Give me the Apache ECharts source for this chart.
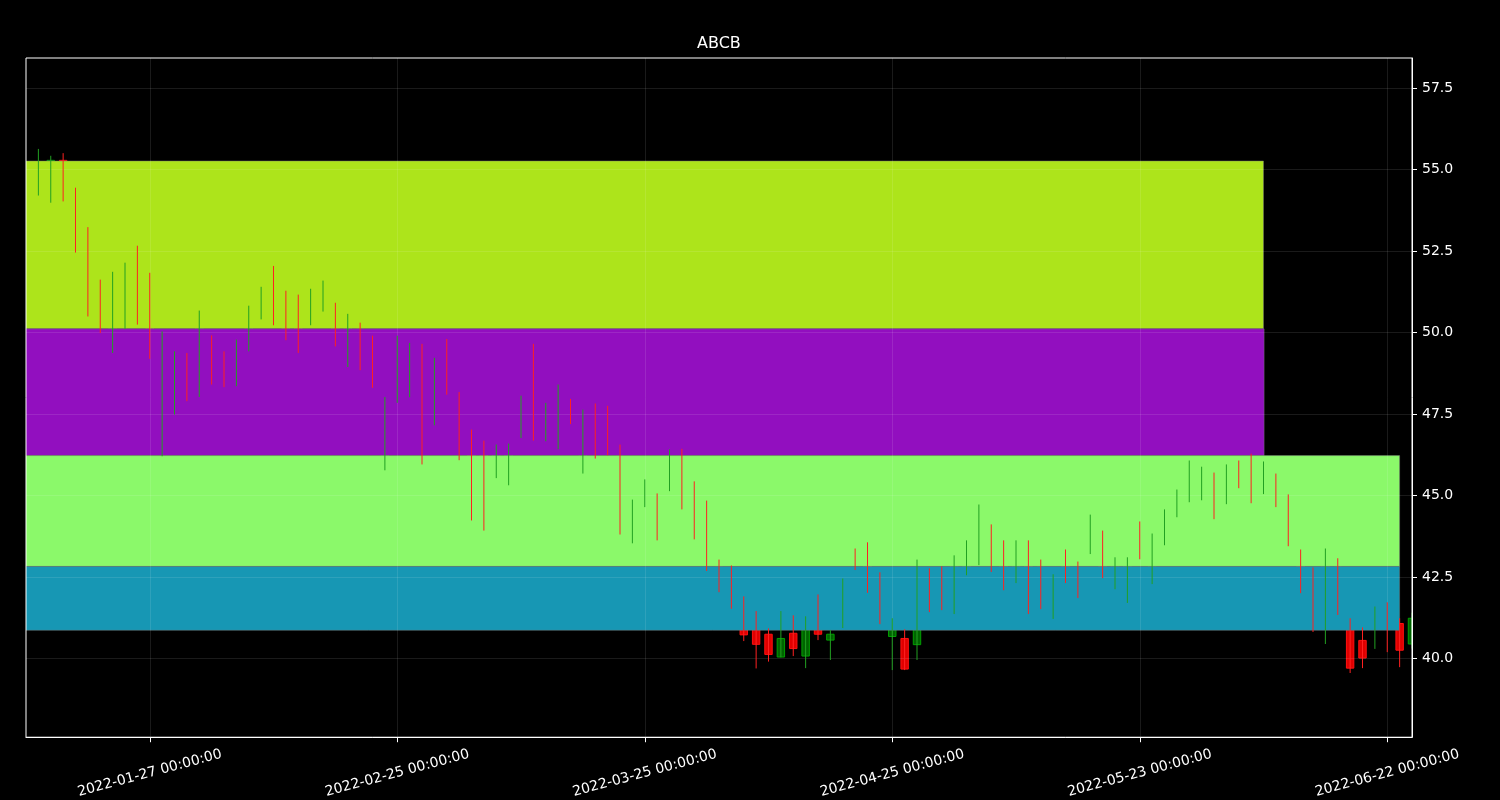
<!DOCTYPE html>
<html>
<head>
<meta charset="utf-8">
<script src="https://cdn.jsdelivr.net/npm/echarts@6/dist/echarts.min.js"></script>
<style>html,body{margin:0;padding:0;background:#000;}#chart{width:1500px;height:800px;}</style>
</head>
<body>
<div id="chart"></div>
<script>
const chartTitle = 'ABCB';
const dates = [
'2022-01-13','2022-01-14','2022-01-18','2022-01-19','2022-01-20','2022-01-21','2022-01-24','2022-01-25','2022-01-26','2022-01-27',
'2022-01-28','2022-01-31','2022-02-01','2022-02-02','2022-02-03','2022-02-04','2022-02-07','2022-02-08','2022-02-09','2022-02-10',
'2022-02-11','2022-02-14','2022-02-15','2022-02-16','2022-02-17','2022-02-18','2022-02-22','2022-02-23','2022-02-24','2022-02-25',
'2022-02-28','2022-03-01','2022-03-02','2022-03-03','2022-03-04','2022-03-07','2022-03-08','2022-03-09','2022-03-10','2022-03-11',
'2022-03-14','2022-03-15','2022-03-16','2022-03-17','2022-03-18','2022-03-21','2022-03-22','2022-03-23','2022-03-24','2022-03-25',
'2022-03-28','2022-03-29','2022-03-30','2022-03-31','2022-04-01','2022-04-04','2022-04-05','2022-04-06','2022-04-07','2022-04-08',
'2022-04-11','2022-04-12','2022-04-13','2022-04-14','2022-04-18','2022-04-19','2022-04-20','2022-04-21','2022-04-22','2022-04-25',
'2022-04-26','2022-04-27','2022-04-28','2022-04-29','2022-05-02','2022-05-03','2022-05-04','2022-05-05','2022-05-06','2022-05-09',
'2022-05-10','2022-05-11','2022-05-12','2022-05-13','2022-05-16','2022-05-17','2022-05-18','2022-05-19','2022-05-20','2022-05-23',
'2022-05-24','2022-05-25','2022-05-26','2022-05-27','2022-05-31','2022-06-01','2022-06-02','2022-06-03','2022-06-06','2022-06-07',
'2022-06-08','2022-06-09','2022-06-10','2022-06-13','2022-06-14','2022-06-15','2022-06-16','2022-06-17','2022-06-21','2022-06-22',
'2022-06-23','2022-06-24'];
const opens = [
54.45,54.60,55.28,54.20,53.00,51.40,50.10,50.60,52.30,51.50,
46.60,47.80,49.10,48.40,49.70,49.20,48.60,49.70,50.60,51.80,
51.00,50.90,50.40,50.80,50.70,49.20,50.10,49.60,46.20,48.10,
48.30,49.30,47.50,49.50,47.90,46.70,46.30,45.80,45.60,47.00,
49.30,46.90,46.70,47.80,46.00,47.50,47.50,46.20,43.80,44.80,
44.80,45.40,46.10,45.10,44.50,42.80,42.60,40.95,40.95,40.74,
40.04,40.77,40.07,40.90,40.56,41.20,43.20,43.30,42.40,40.67,
40.61,40.42,42.50,42.60,41.70,42.80,43.20,43.90,43.40,42.50,
43.30,42.80,41.50,43.10,42.70,43.40,43.70,42.30,42.00,44.00,
42.50,43.70,44.50,45.00,45.10,45.40,45.00,45.90,46.00,45.30,
45.40,44.70,43.10,42.50,41.00,42.80,40.95,40.55,40.90,41.40,
41.07,40.44];
const highs = [
55.63,55.42,55.50,54.44,53.23,51.62,51.86,52.14,52.66,51.83,
50.03,49.42,49.37,50.67,49.91,49.42,49.78,50.82,51.40,52.04,
51.28,51.16,51.34,51.59,50.91,50.57,50.30,49.90,48.02,49.90,
49.68,49.65,49.22,49.80,48.17,47.02,46.68,46.56,46.59,48.06,
49.65,47.84,48.40,47.96,47.63,47.82,47.75,46.56,44.87,45.49,
45.06,46.41,46.43,45.43,44.84,43.03,42.85,41.90,41.45,40.92,
41.45,41.32,41.29,41.96,40.87,42.45,43.37,43.56,42.64,41.23,
40.89,43.03,42.76,42.82,43.16,43.62,44.72,44.11,43.62,43.62,
43.62,43.03,42.58,43.34,42.97,44.41,43.92,43.10,43.10,44.20,
43.83,44.57,45.18,46.07,45.88,45.70,45.95,46.07,46.28,46.04,
45.67,45.03,43.34,42.79,43.37,43.07,41.23,40.95,41.59,41.72,
41.23,41.40];
const lows = [
54.20,53.98,54.02,52.45,50.49,49.98,49.37,50.11,50.24,49.19,
46.20,47.48,47.89,48.02,48.40,48.32,48.35,49.42,50.40,50.22,
49.76,49.37,50.22,50.64,49.57,48.94,48.84,48.30,45.77,47.84,
48.01,45.95,47.15,48.09,46.08,44.23,43.92,45.53,45.31,46.76,
46.68,46.66,46.41,47.19,45.67,46.13,46.23,43.80,43.53,44.64,
43.62,45.13,44.57,43.65,42.68,42.03,41.52,40.53,39.69,39.90,
40.03,40.07,39.70,40.56,39.95,40.93,42.71,42.01,41.05,39.64,
39.64,39.95,41.42,41.48,41.36,42.55,42.86,42.65,42.09,42.31,
41.36,41.51,41.21,42.31,41.85,43.20,42.46,42.12,41.70,43.04,
42.28,43.47,44.33,44.79,44.85,44.27,44.73,45.22,44.76,45.04,
44.64,43.44,42.00,40.81,40.44,41.33,39.55,39.70,40.29,40.19,
39.73,40.30];
const closes = [
55.10,55.28,54.60,52.80,50.90,50.30,51.50,51.90,50.60,49.50,
49.60,49.10,48.20,50.20,48.70,48.60,49.50,50.60,51.20,50.50,
50.00,49.70,51.10,51.40,49.80,50.30,49.10,48.60,47.70,49.60,
49.40,46.40,48.90,48.40,46.40,44.60,44.30,46.30,46.30,47.80,
47.00,47.60,48.10,47.40,47.30,46.40,46.50,44.20,44.60,45.30,
43.90,46.10,44.90,44.00,43.00,42.30,41.80,40.72,40.43,40.12,
40.61,40.30,40.90,40.74,40.74,42.10,42.90,42.30,41.30,40.88,
39.67,41.00,41.70,41.80,42.90,43.40,44.40,42.90,42.40,43.40,
41.70,41.80,42.30,42.50,42.10,44.20,42.70,42.90,42.90,43.30,
43.60,44.40,45.00,45.80,45.70,44.50,45.70,45.40,45.00,45.80,
44.90,43.70,42.30,41.10,43.00,41.60,39.70,40.01,41.30,40.95,
40.25,41.23];
const bandLow  = [50.11, 46.22, 42.82, 40.86];
const bandHigh = [55.26, 50.11, 46.22, 42.82];
const bandEnd  = [99.0, 99.05, 110.0, 110.0];
const xTickIndex = [9, 29, 49, 69, 89, 109];
const yTickValues = [40.0, 42.5, 45.0, 47.5, 50.0, 52.5, 55.0, 57.5];

const bandColors = ['#ade41b', '#920fbf', '#8bf96a', '#1797b4'];
const upFill = '#006400', upEdge = '#00a000', upWick = '#22a022';
const downFill = '#e00000', downEdge = '#ff1010', downWick = '#ff2020';
const FONT = 'DejaVu Sans';

const candleData = dates.map((d, i) => [i, opens[i], closes[i], highs[i], lows[i]]);
const bandData = bandLow.map((l, k) => [-1.5, bandEnd[k], l, bandHigh[k], k]);

const chart = echarts.init(document.getElementById('chart'), null, {renderer: 'canvas'});
chart.setOption({
  backgroundColor: '#000',
  animation: false,
  title: {
    text: chartTitle, left: 692, top: 31,
    textStyle: {color: '#fff', fontSize: 16, fontWeight: 'normal', fontFamily: FONT}
  },
  grid: {
    left: 26, top: 58, right: 88, bottom: 62, show: true, z: 10,
    backgroundColor: 'transparent', borderColor: '#ffffff', borderWidth: 1
  },
  xAxis: {
    type: 'value', min: -1, max: 111, z: 3,
    axisLine: {show: true, onZero: false, lineStyle: {color: '#fff'}},
    axisTick: {show: true, customValues: xTickIndex, length: 5, lineStyle: {color: '#fff'}},
    axisLabel: {
      customValues: xTickIndex, rotate: 15, color: '#fff', fontSize: 14, fontFamily: FONT,
      align: 'center', verticalAlign: 'middle', margin: 36,
      formatter: v => dates[Math.round(v)] + ' 00:00:00'
    },
    splitLine: {show: true, lineStyle: {color: 'rgba(255,255,255,0.1)', width: 1}}
  },
  yAxis: {
    type: 'value', position: 'right', min: 37.58, max: 58.42, z: 3, scale: true,
    axisLine: {show: true, onZero: false, lineStyle: {color: '#fff'}},
    axisTick: {show: true, customValues: yTickValues, length: 5, lineStyle: {color: '#fff'}},
    axisLabel: {
      customValues: yTickValues, color: '#fff', fontSize: 14, fontFamily: FONT, margin: 10,
      formatter: v => v.toFixed(1)
    },
    splitLine: {show: true, lineStyle: {color: 'rgba(255,255,255,0.1)', width: 1}}
  },
  series: [
    {
      type: 'custom', name: 'bodies', z: 1, clip: true, data: candleData,
      renderItem: (params, api) => {
        const i = api.value(0), o = api.value(1), c = api.value(2);
        const up = c >= o;
        const p1 = api.coord([i - 0.3, Math.max(o, c)]);
        const p2 = api.coord([i + 0.3, Math.min(o, c)]);
        return {
          type: 'rect',
          shape: {x: p1[0], y: p1[1], width: p2[0] - p1[0], height: Math.max(p2[1] - p1[1], 1)},
          style: {fill: up ? upFill : downFill, stroke: up ? upEdge : downEdge, lineWidth: 1}
        };
      }
    },
    {
      type: 'custom', name: 'bands', z: 2, clip: true, data: bandData,
      renderItem: (params, api) => {
        const x0 = api.value(0), x1 = api.value(1), lo = api.value(2), hi = api.value(3), k = api.value(4);
        const p1 = api.coord([x0, hi]);
        const p2 = api.coord([x1, lo]);
        return {
          type: 'rect',
          shape: {x: p1[0], y: p1[1], width: p2[0] - p1[0], height: p2[1] - p1[1]},
          style: {fill: bandColors[k], stroke: 'rgba(120,120,120,0.45)', lineWidth: 1}
        };
      }
    },
    {
      type: 'custom', name: 'wicks', z: 4, clip: true, data: candleData,
      renderItem: (params, api) => {
        const i = api.value(0), o = api.value(1), c = api.value(2), h = api.value(3), l = api.value(4);
        const up = c >= o;
        const p1 = api.coord([i, h]);
        const p2 = api.coord([i, l]);
        return {
          type: 'line',
          shape: {x1: p1[0], y1: p1[1], x2: p2[0], y2: p2[1]},
          style: {stroke: up ? upWick : downWick, lineWidth: 1}
        };
      }
    }
  ]
});
</script>
</body>
</html>
